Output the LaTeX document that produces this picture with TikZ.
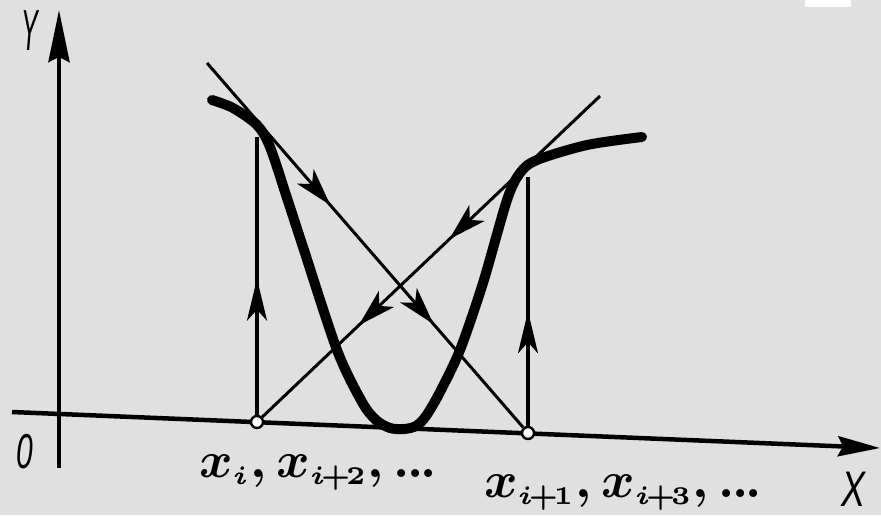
\documentclass[tikz,border=0pt]{standalone}
\usepackage{fontspec}
\usepackage{graphicx}
\newfontfamily\lblfont{Liberation Sans}
\usetikzlibrary{arrows.meta,decorations.markings}
\definecolor{bg}{RGB}{224,224,224}
\definecolor{ink}{RGB}{0,0,0}
\newcommand{\mydots}{\mathinner{.\mkern-1mu.\mkern-1mu.}}
\newcommand{\sub}[1]{_{\scriptscriptstyle #1}}
\newcommand{\pl}{\mkern-2mu+\mkern-2mu}
\tikzset{
 axisline/.style={line width=4.5pt, draw=ink},
 thinline/.style={line width=3pt, draw=ink},
 vline/.style={line width=3.4pt, draw=ink},
 curveline/.style={line width=10pt, draw=ink, line cap=round, line join=round},
 dot/.style={circle, draw=ink, fill=white, line width=2.4pt, inner sep=0pt, minimum size=12pt},
 arrat/.style={postaction={decorate, decoration={markings, mark=at position #1 with {\arrow{Stealth[length=38pt,width=22pt,inset=10pt]}}}}},
 varrat/.style={postaction={decorate, decoration={markings, mark=at position #1 with {\arrow{Stealth[length=42pt,width=20pt,inset=11pt]}}}}},
 lbl/.style={inner sep=0pt, font=\lblfont\itshape\fontsize{50}{50}\selectfont},
 mlbl/.style={inner sep=0pt, anchor=base west},
}
\begin{document}
\begin{tikzpicture}[x=1pt,y=-1pt]
\useasboundingbox (0,0) rectangle (881,515);
\fill[bg] (0,0) rectangle (881,515);
\fill[white] (805,0) rectangle (851,7);
% axes
\coordinate (ybot) at (59,468);
\coordinate (ytop) at (59,10);
\coordinate (xleft) at (12,412);
\coordinate (xright) at (880,448);
\draw[axisline, -{Stealth[length=52pt,width=21pt,inset=5pt]}] (ybot) -- (ytop);
\draw[axisline, -{Stealth[length=42pt,width=20pt,inset=5pt]}] (xleft) -- (xright);
% curve
\draw[curveline] plot[smooth, tension=0.5] coordinates {(212,100) (233,108) (257,125) (270,147) (287,198) (303,247) (337,350) (362,402) (376,420) (390,428) (404,429) (416,426) (426,416) (440,392) (460,350) (483,283) (507,200) (520,173) (537,160) (587,145) (642,137)};
% points
\node[dot] (xi) at (257,422) {};
\node[dot] (xi1) at (528,433) {};
\coordinate (v1) at (257,137);
\coordinate (v2) at (528,177);
\coordinate (t1) at (207,63);
\coordinate (t2) at (600,96);
% connectors
\draw[vline, varrat=0.49] (xi) -- (v1);
\draw[vline, varrat=0.46] (xi1) -- (v2);
\draw[thinline, arrat=0.39, arrat=0.716] (t1) -- (xi1);
\draw[thinline, arrat=0.446, arrat=0.714] (t2) -- (xi);
% labels
\node[lbl] (ylab) at (30,31) {\scalebox{0.5}[1.16]{Y}};
\node[lbl] (xlab) at (853,489) {\scalebox{0.72}[1]{X}};
\node[lbl] (olab) at (25,452) {\scalebox{0.6}[0.98]{0}};
\node[mlbl] (lab1) at (199,477) {\scalebox{5.1}{\boldmath$x\sub{i}, x\sub{i\pl 2}, \mydots$}};
\node[mlbl] (lab2) at (484,497) {\scalebox{5.1}{\boldmath$x\sub{i\pl 1}, x\sub{i\pl 3}, \mydots$}};
\end{tikzpicture}
\end{document}
